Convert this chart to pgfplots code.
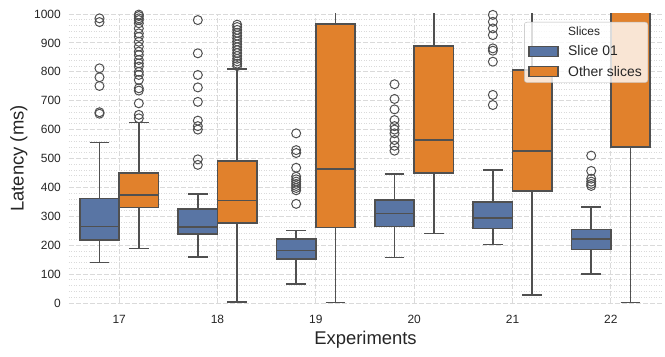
\documentclass[border=0pt]{standalone}
\usepackage{fontspec}
\setmainfont{Liberation Sans}
\usepackage{pgfplots}
\pgfplotsset{compat=1.18}
\usepgfplotslibrary{statistics}

\definecolor{sblue}{HTML}{5975A4}
\definecolor{sorange}{HTML}{E1812C}
\definecolor{edge}{HTML}{505050}
\definecolor{gridc}{HTML}{DADADA}
\definecolor{txt}{HTML}{262626}

\pgfplotsset{
  bxbase/.style={forget plot, boxplot/draw direction=y, boxplot/box extend=0.4,
    boxplot/whisker extend=0.2, draw=edge, line width=1.5bp, solid,
    boxplot/every box/.style={line width=1.5bp},
    boxplot/every median/.style={line width=1.5bp},
    boxplot/every whisker/.style={line width=1.5bp},
    mark=o, mark size=4.5bp, mark options={draw=edge, line width=1bp, fill=none, solid}},
  s1/.style={bxbase, fill=sblue},
  s2/.style={bxbase, fill=sorange},
  legbox/.style={legend image code/.code={
    \draw[sharp corners, fill=#1, draw=edge, line width=1.3bp, fill opacity=1] (0bp,-5bp) rectangle (29bp,5bp);
    \path (37bp,0bp);}},
}

\begin{document}
\begin{tikzpicture}
\begin{axis}[
  scale only axis, width=593bp, height=289bp,
  xmin=16.49, xmax=22.52, ymin=0, ymax=1000,
  xtick={17,...,22}, ytick={0,100,...,1000}, minor y tick num=4,
  xmajorgrids, ymajorgrids, yminorgrids,
  major grid style={gridc, line width=0.8bp, dash pattern=on 5bp off 2bp},
  minor grid style={gridc, line width=0.8bp, dash pattern=on 1bp off 1.5bp},
  axis line style={draw=none},
  major tick length=0, minor tick length=0, tick style={draw=none},
  /pgf/number format/assume math mode=true,
  /pgf/number format/1000 sep={},
  tick label style={font=\fontsize{12}{14}\selectfont, text=txt},
  xticklabel style={anchor=base, yshift=-20.5bp},
  yticklabel style={anchor=east, inner sep=0pt, xshift=-8bp},
  xlabel={Experiments}, ylabel={Latency (ms)},
  label style={font=\fontsize{18.5}{20}\selectfont, text=txt},
  xlabel style={at={(axis description cs:0.5,-0.1419)}, anchor=base},
  ylabel style={at={(axis description cs:-0.0845,0.5)}, anchor=center},
  legend cell align=left,
  legend style={at={(axis description cs:1,1)}, anchor=north east, xshift=-14bp, yshift=-8bp,
    draw=gridc!85!black, fill=white, fill opacity=0.8, text opacity=1, rounded corners=2.5bp,
    inner xsep=4bp, inner ysep=3bp, row sep=4.5bp, text=txt, font=\fontsize{14}{16}\selectfont},
]
\addlegendimage{empty legend}
\addlegendentry{\fontsize{12}{14}\selectfont Slices}
\addlegendimage{legbox=sblue}
\addlegendentry{Slice 01}
\addlegendimage{legbox=sorange}
\addlegendentry{Other slices}

% 17
\addplot[s1, boxplot prepared={draw position=16.8, lower whisker=141, lower quartile=218,
  median=264, upper quartile=361, upper whisker=556}]
  coordinates {(0,985) (0,972) (0,812) (0,781) (0,751) (0,660) (0,655)};
\addplot[s2, boxplot prepared={draw position=17.2, lower whisker=188, lower quartile=331,
  median=374, upper quartile=449, upper whisker=625}]
  coordinates {(0,998) (0,993) (0,985) (0,979) (0,968) (0,950) (0,933) (0,921) (0,904)
    (0,887) (0,870) (0,858) (0,841) (0,829) (0,818) (0,800) (0,789) (0,772) (0,743)
    (0,735) (0,691) (0,651) (0,639)};
% 18
\addplot[s1, boxplot prepared={draw position=17.8, lower whisker=159, lower quartile=238,
  median=263, upper quartile=326, upper whisker=378}]
  coordinates {(0,979) (0,864) (0,789) (0,746) (0,696) (0,631) (0,612) (0,600) (0,497) (0,478)};
\addplot[s2, boxplot prepared={draw position=18.2, lower whisker=4, lower quartile=276,
  median=354, upper quartile=491, upper whisker=810}]
  coordinates {(0,820) (0,828) (0,836) (0,845) (0,855) (0,865) (0,875) (0,885) (0,895)
    (0,905) (0,915) (0,925) (0,935) (0,945) (0,955) (0,963)};
% 19
\addplot[s1, boxplot prepared={draw position=18.8, lower whisker=66, lower quartile=153,
  median=181, upper quartile=221, upper whisker=250}]
  coordinates {(0,587) (0,529) (0,519) (0,468) (0,437) (0,428) (0,420) (0,412) (0,405)
    (0,398) (0,390) (0,343)};
\addplot[s2, boxplot prepared={draw position=19.2, lower whisker=0, lower quartile=262,
  median=463, upper quartile=965, upper whisker=1500}]
  coordinates {};
% 20
\addplot[s1, boxplot prepared={draw position=19.8, lower whisker=157, lower quartile=264,
  median=310, upper quartile=356, upper whisker=446}]
  coordinates {(0,757) (0,706) (0,670) (0,633) (0,612) (0,600) (0,587) (0,564) (0,544) (0,527)};
\addplot[s2, boxplot prepared={draw position=20.2, lower whisker=241, lower quartile=449,
  median=564, upper quartile=889, upper whisker=1500}]
  coordinates {};
% 21
\addplot[s1, boxplot prepared={draw position=20.8, lower whisker=203, lower quartile=258,
  median=294, upper quartile=349, upper whisker=461}]
  coordinates {(0,997) (0,973) (0,950) (0,927) (0,881) (0,873) (0,835) (0,720) (0,685)};
\addplot[s2, boxplot prepared={draw position=21.2, lower whisker=28, lower quartile=388,
  median=526, upper quartile=806, upper whisker=1500}]
  coordinates {};
% 22
\addplot[s1, boxplot prepared={draw position=21.8, lower whisker=101, lower quartile=185,
  median=221, upper quartile=255, upper whisker=332}]
  coordinates {(0,510) (0,457) (0,430) (0,420) (0,412) (0,405)};
\addplot[s2, boxplot prepared={draw position=22.2, lower whisker=1, lower quartile=540,
  median=1200, upper quartile=1600, upper whisker=2500}]
  coordinates {};
\end{axis}
\pgfresetboundingbox
\path[use as bounding box] ([shift={(-69bp,-54bp)}]current axis.south west)
  rectangle ([shift={(3bp,14bp)}]current axis.north east);
\end{tikzpicture}
\end{document}
